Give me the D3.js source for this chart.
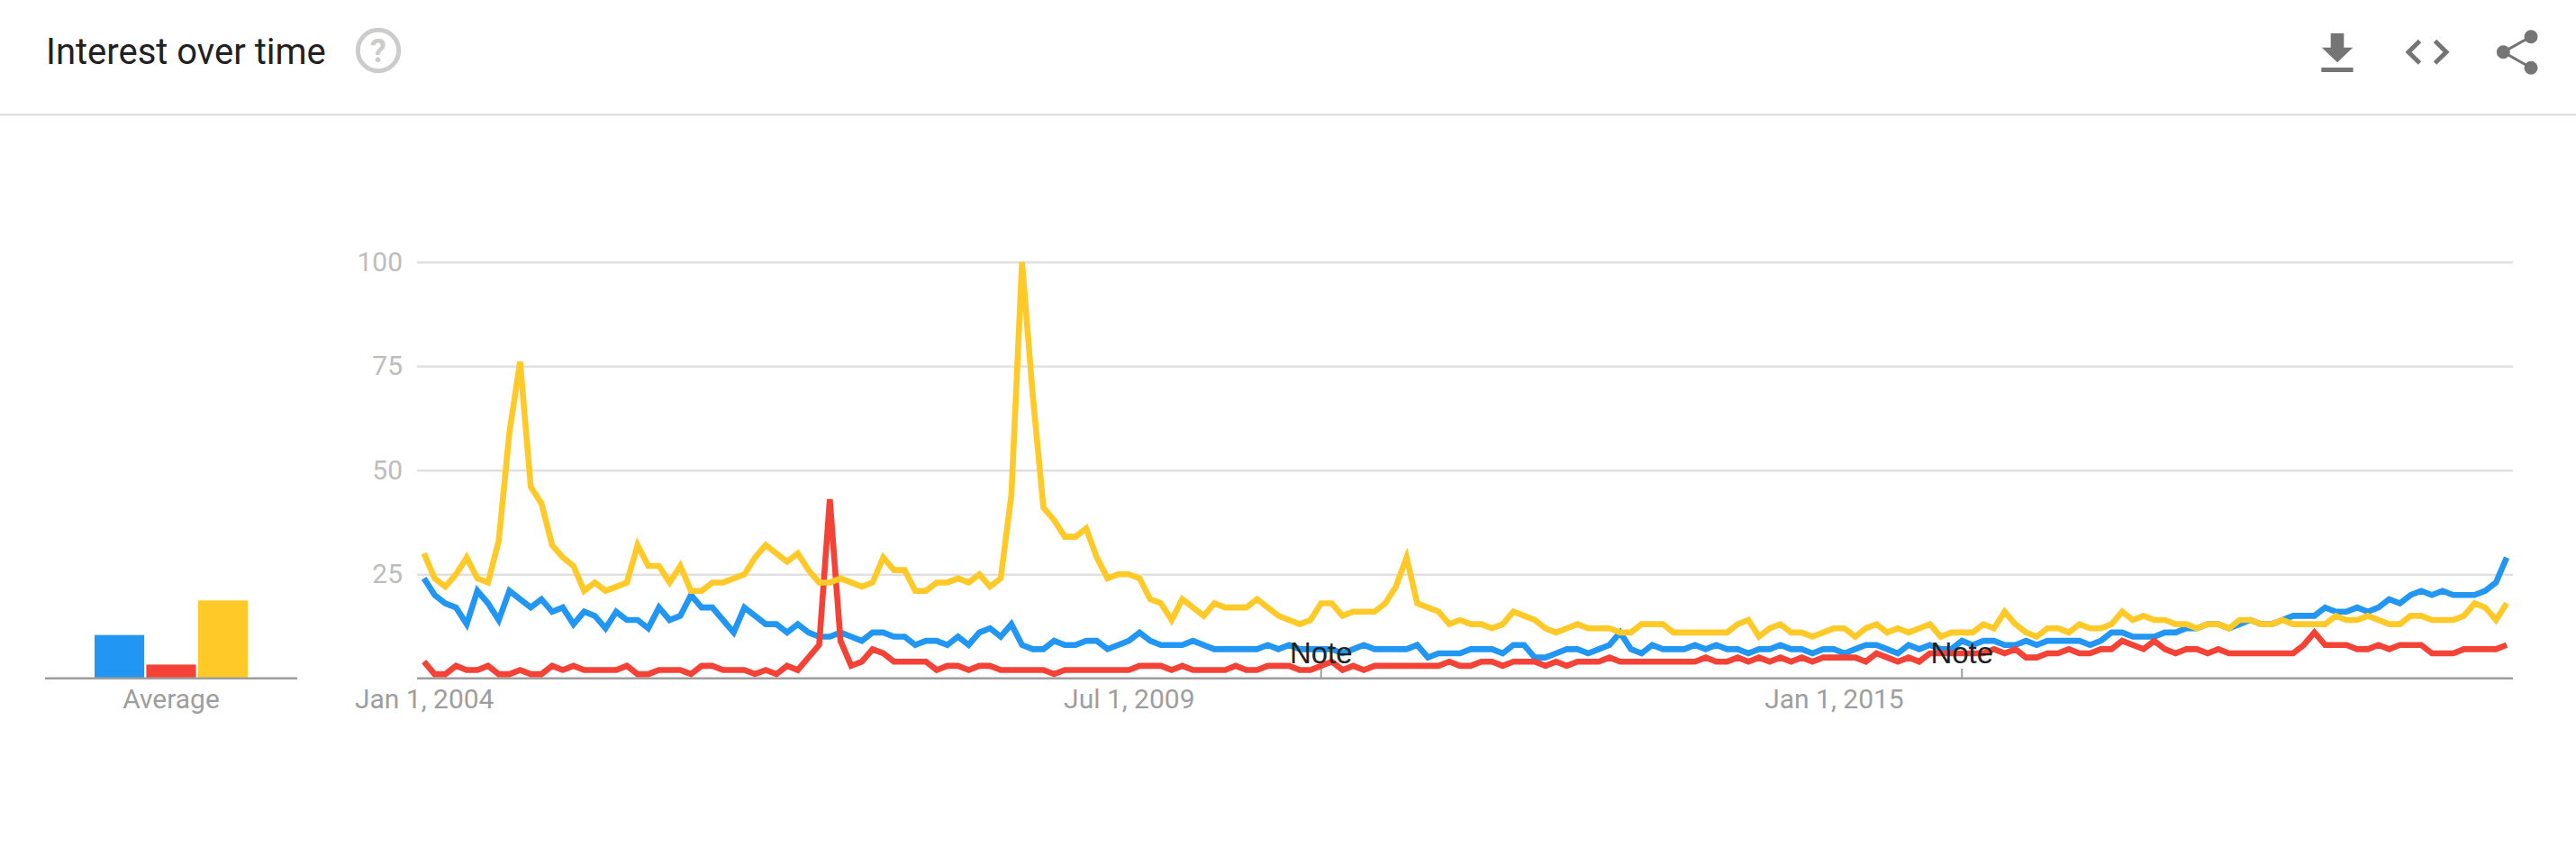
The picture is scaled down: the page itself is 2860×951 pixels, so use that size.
<!DOCTYPE html>
<html>
<head>
<meta charset="utf-8">
<title>Interest over time</title>
<script src="https://cdn.jsdelivr.net/npm/d3@7/dist/d3.min.js"></script>
<style>
html,body{margin:0;padding:0;background:#fff;overflow:hidden}
svg{display:block}
text{font-family:Roboto,sans-serif}
</style>
</head>
<body>
<svg id="chart" width="2860" height="951"></svg>
<script>
const titleText = "Interest over time";
const averageLabel = "Average";
const noteLabel = "Note";
const yTicks = [25, 50, 75, 100];
const xTickIndex = [0, 66, 132];
const xTickLabels = ["Jan 1, 2004", "Jul 1, 2009", "Jan 1, 2015"];
const noteIndex = [84, 144];

const blueSeries = [
  24,20,18,17,13,21,18,14,21,19,
  17,19,16,17,13,16,15,12,16,14,
  14,12,17,14,15,20,17,17,14,11,
  17,15,13,13,11,13,11,10,10,11,
  10,9,11,11,10,10,8,9,9,8,
  10,8,11,12,10,13,8,7,7,9,
  8,8,9,9,7,8,9,11,9,8,
  8,8,9,8,7,7,7,7,7,8,
  7,8,7,7,7,7,6,7,8,7,
  7,7,7,8,5,6,6,6,7,7,
  7,6,8,8,5,5,6,7,7,6,
  7,8,11,7,6,8,7,7,7,8,
  7,8,7,7,6,7,7,8,7,7,
  6,7,7,6,7,8,8,7,6,8,
  7,8,7,7,9,8,9,9,8,8,
  9,8,9,9,9,9,8,9,11,11,
  10,10,10,11,11,12,12,13,13,12,
  13,14,13,13,14,15,15,15,17,16,
  16,17,16,17,19,18,20,21,20,21,
  20,20,20,21,23,29
];
const redSeries = [
  4,1,1,3,2,2,3,1,1,2,
  1,1,3,2,3,2,2,2,2,3,
  1,1,2,2,2,1,3,3,2,2,
  2,1,2,1,3,2,5,8,43,9,
  3,4,7,6,4,4,4,4,2,3,
  3,2,3,3,2,2,2,2,2,1,
  2,2,2,2,2,2,2,3,3,3,
  2,3,2,2,2,2,3,2,2,3,
  3,3,2,2,3,4,2,3,2,3,
  3,3,3,3,3,3,4,3,3,4,
  4,3,4,4,4,3,4,3,4,4,
  4,5,4,4,4,4,4,4,4,4,
  5,4,4,5,4,5,4,5,4,5,
  4,5,5,5,5,4,6,5,4,5,
  4,6,6,6,6,6,6,7,6,7,
  5,5,6,6,7,6,6,7,7,9,
  8,7,9,7,6,7,7,6,7,6,
  6,6,6,6,6,6,8,11,8,8,
  8,7,7,8,7,8,8,8,6,6,
  6,7,7,7,7,8
];
const yellowSeries = [
  30,24,22,25,29,24,23,33,59,76,
  46,42,32,29,27,21,23,21,22,23,
  32,27,27,23,27,21,21,23,23,24,
  25,29,32,30,28,30,26,23,23,24,
  23,22,23,29,26,26,21,21,23,23,
  24,23,25,22,24,44,100,68,41,38,
  34,34,36,29,24,25,25,24,19,18,
  14,19,17,15,18,17,17,17,19,17,
  15,14,13,14,18,18,15,16,16,16,
  18,22,29,18,17,16,13,14,13,13,
  12,13,16,15,14,12,11,12,13,12,
  12,12,11,11,13,13,13,11,11,11,
  11,11,11,13,14,10,12,13,11,11,
  10,11,12,12,10,12,13,11,12,11,
  12,13,10,11,11,11,13,12,16,13,
  11,10,12,12,11,13,12,12,13,16,
  14,15,14,14,13,13,12,13,13,12,
  14,14,13,13,14,13,13,13,13,15,
  14,14,15,14,13,13,15,15,14,14,
  14,15,18,17,14,18
];
const averageKeys = ["blue", "red", "yellow"];
const averageValues = [10.4, 3.3, 18.7];
const seriesColors = ["#2196f3", "#f44336", "#ffca28"];

const svg = d3.select("#chart");
const gridColor = "#e0e0e0", axisColor = "#9e9e9e", yLabelColor = "#bdbdbd", iconColor = "#757575";
const tickFont = 30;

const x = d3.scaleLinear().domain([0, blueSeries.length - 1]).range([470.7, 2783]);
const y = d3.scaleLinear().domain([0, 100]).range([752.7, 290.7]);
const xBand = d3.scaleBand().domain(averageKeys).range([105, 275]).paddingInner(0.04).paddingOuter(0);
const plotLeft = 463, plotRight = 2790;

/* header */
svg.append("text").attr("x", 51).attr("y", 71).attr("font-size", 40).attr("fill", "#212121").text(titleText);
svg.append("line").attr("x1", 0).attr("x2", 2860).attr("y1", 127.3).attr("y2", 127.3).attr("stroke", gridColor).attr("stroke-width", 2.6);
svg.append("circle").attr("cx", 420).attr("cy", 56).attr("r", 22.7).attr("fill", "none").attr("stroke", "#cccccc").attr("stroke-width", 5);
svg.append("text").attr("x", 420).attr("y", 69).attr("text-anchor", "middle").attr("font-size", 36).attr("font-weight", 700).attr("fill", "#cccccc").text("?");

/* icons */
const icons = svg.append("g");
icons.append("path").attr("fill", iconColor).attr("d", "M2587.7 37H2602.3V52.7H2612.3L2595 69.3L2577.7 52.7H2587.7ZM2577.3 75H2612.6V80H2577.3Z");
icons.append("path").attr("fill", "none").attr("stroke", iconColor).attr("stroke-width", 5).attr("d", "M2686.5 45.5L2674 57.7L2686.5 70M2703.5 45.5L2716 57.7L2703.5 70");
icons.append("path").attr("fill", "none").attr("stroke", iconColor).attr("stroke-width", 3).attr("d", "M2810 40.7L2779.3 57.7L2810 75.3");
[[2810, 40.7], [2779.3, 57.7], [2810, 75.3]].forEach(c => icons.append("circle").attr("cx", c[0]).attr("cy", c[1]).attr("r", 7.5).attr("fill", iconColor));

/* y axis with gridlines */
const yAxis = svg.append("g").attr("transform", `translate(${plotLeft},0)`)
  .call(d3.axisLeft(y).tickValues(yTicks).tickSize(-(plotRight - plotLeft)).tickPadding(16));
yAxis.select(".domain").remove();
yAxis.selectAll("line").attr("stroke", gridColor).attr("stroke-width", 2.4);
yAxis.selectAll("text").attr("font-size", tickFont).attr("font-family", "Roboto").attr("fill", yLabelColor);

/* baseline and x labels */
const xAxis = svg.append("g").attr("transform", `translate(0,${y(0)})`)
  .call(d3.axisBottom(x).tickValues(xTickIndex).tickFormat((d, i) => xTickLabels[i]).tickSize(0).tickPadding(12));
xAxis.select(".domain").remove();
xAxis.selectAll("text").attr("font-size", tickFont).attr("font-family", "Roboto").attr("fill", axisColor);
svg.append("line").attr("x1", plotLeft).attr("x2", plotRight).attr("y1", y(0)).attr("y2", y(0)).attr("stroke", axisColor).attr("stroke-width", 2.6);

/* note ticks */
svg.selectAll(".noteTick").data(noteIndex).join("line").attr("class", "noteTick")
  .attr("x1", d => x(d)).attr("x2", d => x(d)).attr("y1", 742).attr("y2", y(0))
  .attr("stroke", axisColor).attr("stroke-width", 2);

/* lines */
const line = d3.line().x((d, i) => x(i)).y(d => y(d));
[blueSeries, redSeries, yellowSeries].forEach((s, i) => {
  svg.append("path").datum(s).attr("d", line).attr("fill", "none")
    .attr("stroke", seriesColors[i]).attr("stroke-width", 6.6)
    .attr("stroke-linejoin", "miter").attr("stroke-miterlimit", 4);
});

/* note labels */
svg.selectAll(".noteText").data(noteIndex).join("text").attr("class", "noteText")
  .attr("x", d => x(d)).attr("y", 736).attr("text-anchor", "middle")
  .attr("font-size", 33).attr("fill", "#222222").style("font-family", "'Liberation Sans',Arial,sans-serif").text(noteLabel);

/* average bars */
const barData = averageKeys.map((k, i) => ({k, v: averageValues[i], c: seriesColors[i]}));
svg.selectAll(".avg").data(barData).join("rect").attr("class", "avg")
  .attr("x", d => xBand(d.k)).attr("width", xBand.bandwidth())
  .attr("y", d => y(d.v)).attr("height", d => y(0) - y(d.v)).attr("fill", d => d.c);
svg.append("line").attr("x1", 50).attr("x2", 330).attr("y1", y(0)).attr("y2", y(0)).attr("stroke", axisColor).attr("stroke-width", 2.6);
svg.append("text").attr("x", 190).attr("y", 786).attr("text-anchor", "middle").attr("font-size", tickFont).attr("fill", axisColor).text(averageLabel);
</script>
</body>
</html>
